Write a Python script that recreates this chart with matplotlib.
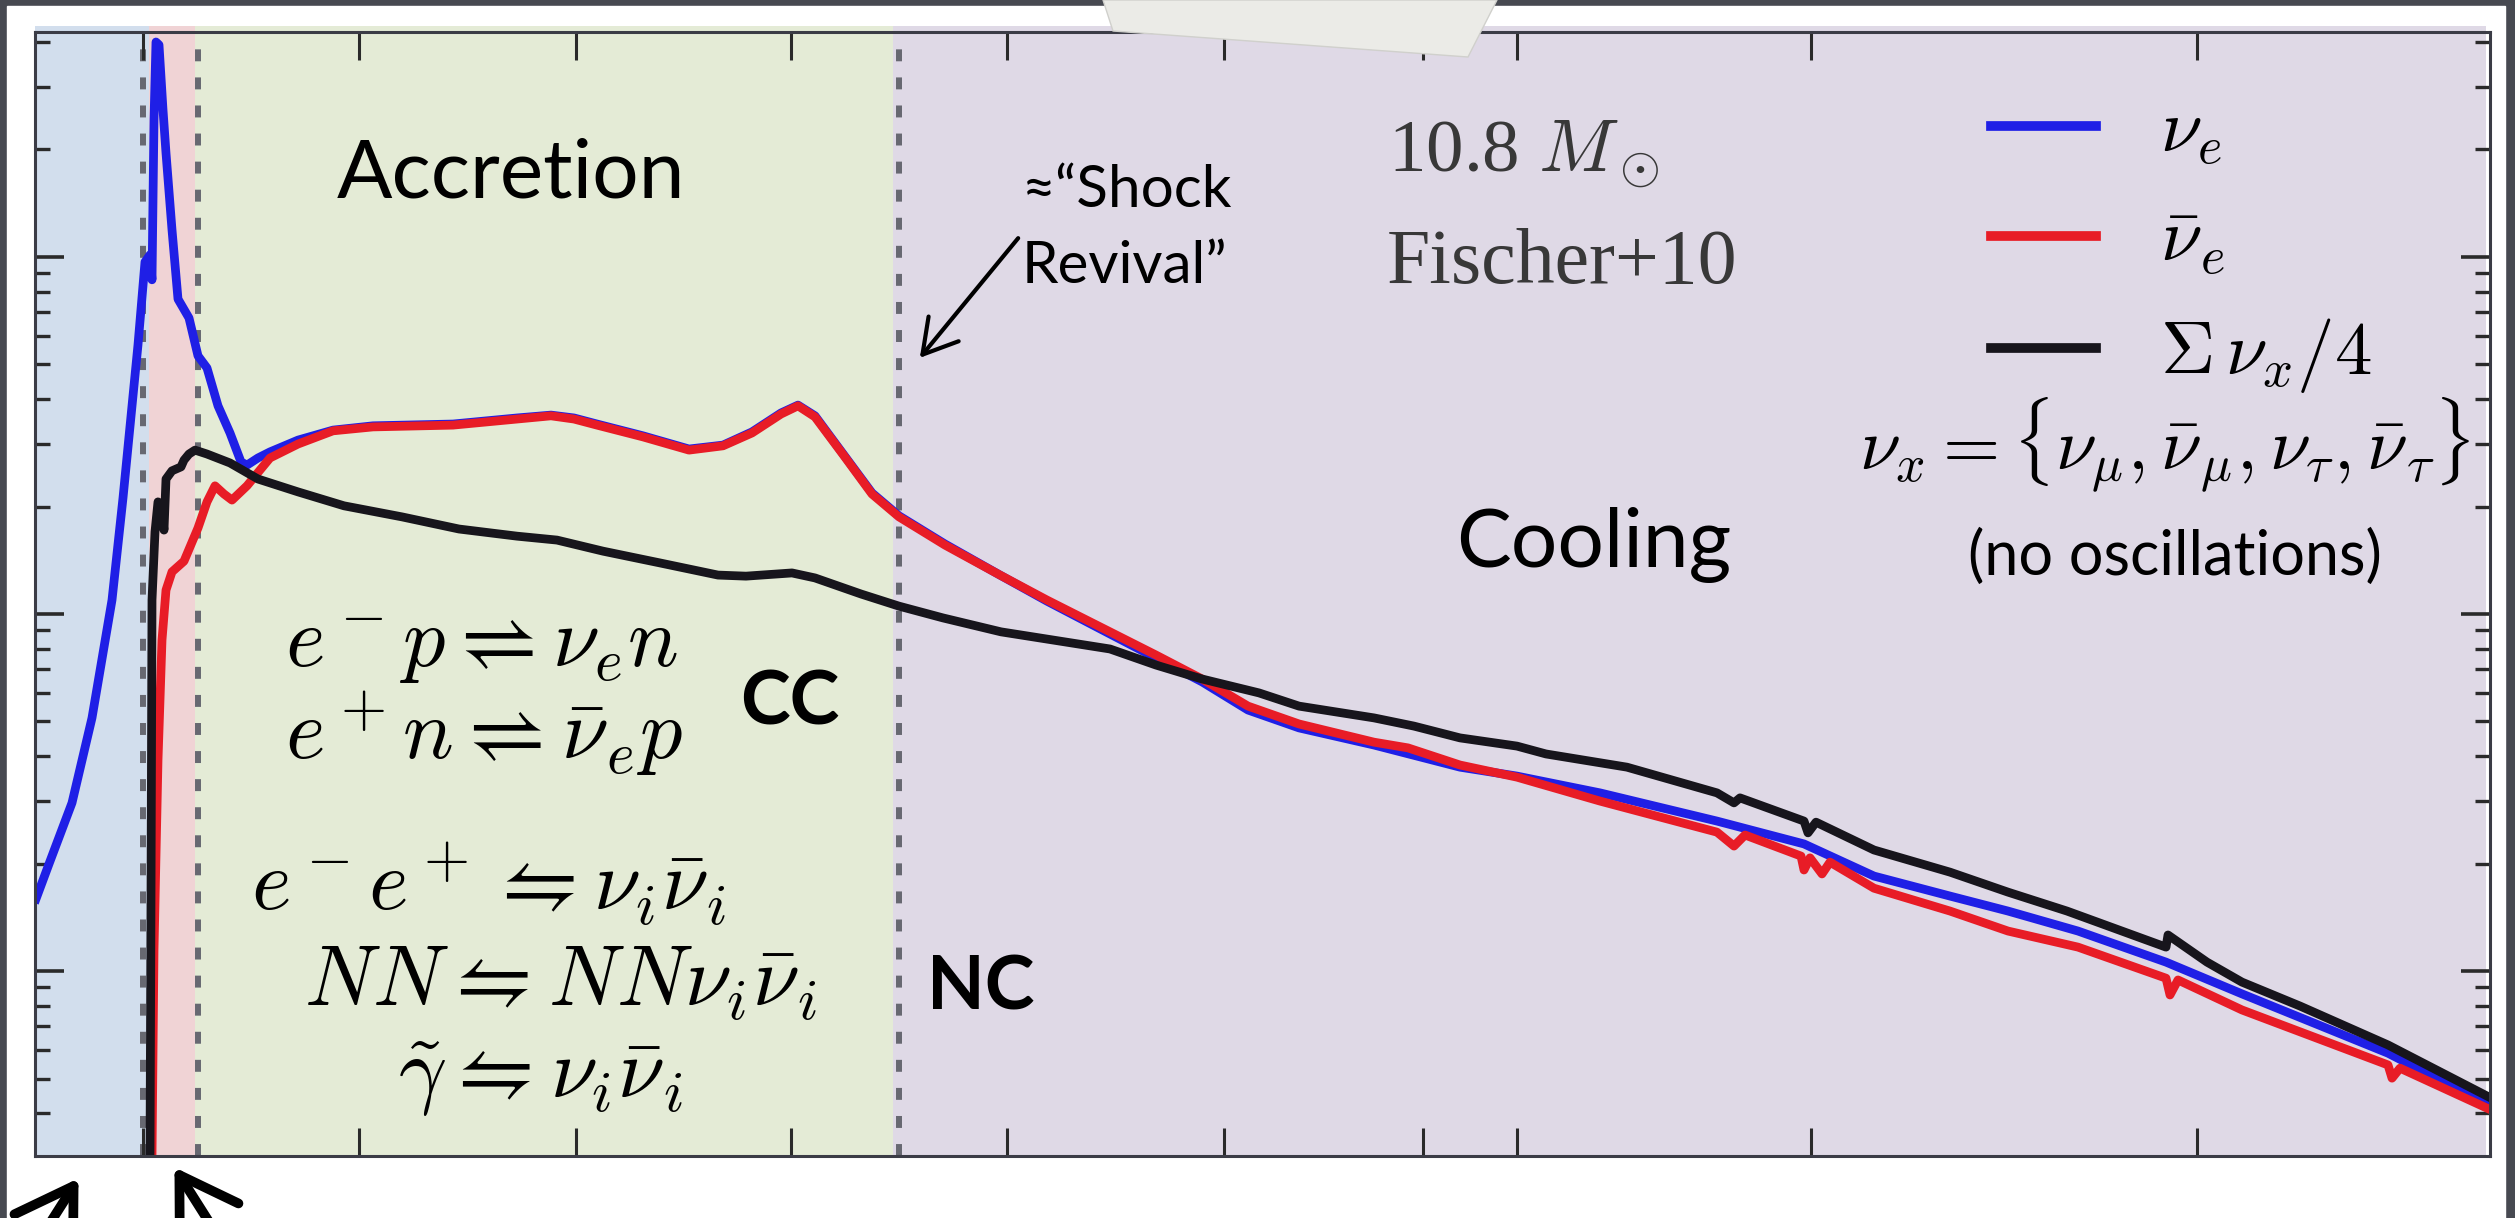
" neutrino luminosity phases of a 10.8 Msun core-collapse (Fischer+10) "
import numpy as np
import matplotlib.pyplot as plt
from matplotlib.patches import Rectangle, Polygon, FancyArrowPatch

plt.rcParams['mathtext.fontset'] = 'cm'

# time axis in arbitrary units, luminosity as log10(L / 1e52 erg/s)
t_nue = [0.01, 0.14, 0.37, 0.57, 0.77, 0.88, 1.03, 1.10, 1.15, 1.17, 1.19,
         1.21, 1.24, 1.28, 1.31, 1.37, 1.43, 1.54, 1.63, 1.72, 1.83, 1.95,
         2.06, 2.12, 2.23, 2.35, 2.63, 2.98, 3.38, 4.18, 4.82, 5.16, 5.39,
         5.62, 6.08, 6.54, 6.88, 7.17, 7.46, 7.63, 7.80, 8.09, 8.37, 8.64,
         9.10, 9.65, 10.12, 10.75, 11.21, 11.67, 12.13, 12.64, 13.39, 14.25,
         14.82, 15.65, 16.82, 17.69, 18.39, 19.15, 19.73, 20.43, 21.31,
         22.07, 23.53, 24.52]
L_nue = [-0.798, -0.700, -0.529, -0.291, 0.039, 0.325, 0.754, 0.986, 1.006,
         0.936, 1.384, 1.602, 1.594, 1.412, 1.291, 1.076, 0.882, 0.829,
         0.723, 0.689, 0.583, 0.507, 0.426, 0.417, 0.437, 0.454, 0.487,
         0.515, 0.527, 0.532, 0.549, 0.557, 0.549, 0.532, 0.499, 0.462,
         0.473, 0.510, 0.563, 0.585, 0.555, 0.445, 0.339, 0.275, 0.196,
         0.109, 0.036, -0.056, -0.123, -0.190, -0.269, -0.319, -0.367,
         -0.429, -0.454, -0.501, -0.580, -0.644, -0.734, -0.790, -0.832,
         -0.888, -0.975, -1.064, -1.230, -1.373]

t_anue = [1.17, 1.19, 1.23, 1.27, 1.31, 1.37, 1.49, 1.63, 1.72, 1.80, 1.89,
          1.97, 2.12, 2.35, 2.63, 2.98, 3.38, 4.18, 4.82, 5.16, 5.39, 5.62,
          6.08, 6.54, 6.88, 7.17, 7.46, 7.63, 7.80, 8.09, 8.37, 8.64, 9.10,
          9.65, 10.12, 10.75, 11.21, 11.67, 12.13, 12.64, 13.39, 13.73,
          14.25, 14.82, 15.65, 16.82, 16.99, 17.10, 17.66, 17.69, 17.75,
          17.87, 17.95, 18.39, 19.15, 19.73, 20.43, 21.31, 21.35, 21.43,
          22.07, 23.53, 23.57, 23.65, 24.52]
L_anue = [-1.521, -0.941, -0.409, -0.073, 0.067, 0.118, 0.148, 0.241, 0.314,
          0.359, 0.336, 0.319, 0.359, 0.437, 0.476, 0.513, 0.524, 0.529,
          0.546, 0.555, 0.546, 0.529, 0.496, 0.459, 0.471, 0.507, 0.560,
          0.583, 0.552, 0.443, 0.336, 0.272, 0.193, 0.109, 0.039, -0.050,
          -0.115, -0.182, -0.258, -0.308, -0.359, -0.375, -0.423, -0.457,
          -0.524, -0.611, -0.650, -0.619, -0.678, -0.717, -0.683, -0.728,
          -0.695, -0.768, -0.832, -0.888, -0.933, -1.020, -1.067, -1.025,
          -1.109, -1.263, -1.300, -1.272, -1.384]

t_nux = [1.15, 1.16, 1.17, 1.20, 1.23, 1.27, 1.29, 1.31, 1.37, 1.46, 1.49,
         1.54, 1.60, 1.72, 1.95, 2.23, 2.63, 3.09, 3.67, 4.24, 4.82, 5.22,
         5.68, 6.25, 6.83, 7.11, 7.57, 7.80, 8.26, 8.64, 9.08, 9.66, 10.75,
         11.21, 11.67, 12.24, 12.64, 13.39, 13.79, 14.25, 14.82, 15.11,
         15.92, 16.82, 16.99, 17.05, 17.69, 17.73, 17.81, 18.39, 19.15,
         19.73, 20.32, 21.31, 21.33, 21.72, 22.07, 22.65, 23.53, 24.52]
L_nux = [-1.521, -0.801, 0.039, 0.230, 0.314, 0.286, 0.235, 0.378, 0.401,
         0.412, 0.431, 0.448, 0.459, 0.448, 0.423, 0.378, 0.342, 0.303,
         0.272, 0.238, 0.218, 0.207, 0.176, 0.143, 0.109, 0.106, 0.115,
         0.101, 0.056, 0.022, -0.011, -0.050, -0.098, -0.143, -0.182,
         -0.221, -0.258, -0.291, -0.314, -0.347, -0.370, -0.392, -0.429,
         -0.501, -0.529, -0.515, -0.580, -0.613, -0.583, -0.661, -0.723,
         -0.779, -0.832, -0.933, -0.899, -0.975, -1.031, -1.098, -1.207,
         -1.350]

# phase boundaries and the dashed markers
phase_edges = [0.0, 1.14, 1.60, 8.58, 24.51]
phase_colors = ['#d2deed', '#f0d3d5', '#e4ebd6', '#dfd9e6']
dashed_t = [1.08, 1.63, 8.64]
xticks = [1.08, 3.24, 5.41, 7.56, 9.72, 11.89, 13.88, 14.82, 17.76, 21.62]

W, H = 2515, 1218
fig = plt.figure(figsize=(W / 100, H / 100), dpi=100)
fig.patch.set_facecolor('#474951')
fig.patches.append(Rectangle((7 / W, 0), 2498 / W, 1212 / H,
                             transform=fig.transFigure, color='white',
                             zorder=-10))

ax = fig.add_axes([35 / W, 62 / H, 2455 / W, 1124 / H])
ax.set_zorder(1)
ax.set_facecolor('none')
ax.set_yscale('log')
ax.set_xlim(0, 24.55)
ax.set_ylim(10 ** (52 - 1.518), 10 ** (52 + 1.630))

for x0, x1, c in zip(phase_edges[:-1], phase_edges[1:], phase_colors):
    ax.axvspan(x0, x1, ymin=0, ymax=1.0055, color=c, lw=0, zorder=0,
               clip_on=False)
for xd in dashed_t:
    ax.axvline(xd, color='#676871', lw=4.3, dashes=(2.0, 2.7), zorder=1)

lw = 6.3
ax.plot(t_nue, 10 ** (52 + np.array(L_nue)), color='#1f1fe6', lw=lw,
        solid_joinstyle='round', zorder=3, label=r'$\nu_e$')
ax.plot(t_anue, 10 ** (52 + np.array(L_anue)), color='#e81c26', lw=lw,
        solid_joinstyle='round', zorder=4, label=r'$\bar{\nu}_e$')
ax.plot(t_nux, 10 ** (52 + np.array(L_nux)), color='#17151c', lw=lw,
        solid_joinstyle='round', zorder=5, label=r'$\Sigma\,\nu_x/4$')

ax.set_xticks(xticks)
ax.tick_params(axis='x', which='both', direction='in', top=True,
               bottom=True, labelbottom=False, length=20, width=2.2,
               color='#2a2a2a')
ax.tick_params(axis='y', which='major', direction='in', left=True,
               right=True, labelleft=False, length=21, width=2.6,
               color='#2a2a2a')
ax.tick_params(axis='y', which='minor', direction='in', left=True,
               right=True, labelleft=False, length=11, width=2.4,
               color='#2a2a2a')
for s in ax.spines.values():
    s.set_color('#3b3c46')
    s.set_linewidth(2.2)
    s.set_zorder(6)

leg = ax.legend(loc='center left', bbox_to_anchor=(0.7967, 0.8105),
                frameon=False, fontsize=54, handlelength=1.4,
                handletextpad=0.85, labelspacing=0.5, borderpad=0,
                borderaxespad=0)
for ln in leg.get_lines():
    ln.set_linewidth(7)

sans = 'Lato'
ax.text(0.1230, 0.8532, 'Accretion', fontsize=59, family=sans,
        va='baseline', transform=ax.transAxes)
ax.text(0.5788, 0.5240, 'Cooling', fontsize=59, family=sans,
        va='baseline', transform=ax.transAxes)
ax.text(0.2872, 0.3843, 'CC', fontsize=54, family=sans, weight='bold',
        va='baseline', transform=ax.transAxes)
ax.text(0.3633, 0.1299, 'NC', fontsize=54, family=sans, weight='bold',
        va='baseline', transform=ax.transAxes)
ax.text(0.4020, 0.8443, '\u2248\u201cShock', fontsize=42, family=sans,
        va='baseline', transform=ax.transAxes)
ax.text(0.4020, 0.7767, 'Revival\u201d', fontsize=42, family=sans,
        va='baseline', transform=ax.transAxes)
ax.annotate('', xy=(0.3597, 0.7082), xytext=(0.4012, 0.8185),
            xycoords='axes fraction',
            arrowprops=dict(arrowstyle='->,head_length=0.6,head_width=0.35',
                            lw=3, color='black', mutation_scale=40))

serif_col = '#383838'
ax.text(0.5511, 0.8754, r'10.8 $M_\odot$', fontsize=54,
        family='Liberation Serif', color=serif_col, va='baseline',
        transform=ax.transAxes)
ax.text(0.5507, 0.7767, 'Fischer+10', fontsize=56,
        family='Liberation Serif', color=serif_col, va='baseline',
        transform=ax.transAxes)
ax.text(0.7430, 0.6112,
        r'$\nu_x=\{\nu_\mu,\bar{\nu}_\mu,\nu_\tau,\bar{\nu}_\tau\}$',
        fontsize=53, va='baseline', transform=ax.transAxes)
ax.text(0.8717, 0.5329, '(no oscillations)', fontsize=44, family=sans,
        ha='center', va='center', transform=ax.transAxes)

# charged- and neutral-current processes
eqs = [(0.1020, 0.4351, r'$e^-p\rightleftharpoons\nu_e n$'),
       (0.1020, 0.3523, r'$e^+n\rightleftharpoons\bar{\nu}_e p$'),
       (0.0880, 0.2180, r'$e^-e^+\leftrightharpoons\nu_i\bar{\nu}_i$'),
       (0.1096, 0.1335, r'$NN\leftrightharpoons NN\nu_i\bar{\nu}_i$'),
       (0.1480, 0.0516, r'$\tilde{\gamma}\leftrightharpoons\nu_i\bar{\nu}_i$')]
for x, y, s in eqs:
    ax.text(x, y, s, fontsize=61, va='baseline', transform=ax.transAxes)

# paper tape on the slide edge
fig.patches.append(Polygon([(1103 / W, 1.0), (1497 / W, 1.0),
                            (1468 / W, (H - 57) / H),
                            (1113 / W, (H - 31) / H)],
                           closed=True, transform=fig.transFigure,
                           facecolor='#ebebe7', edgecolor='#d0d0cc',
                           lw=1, zorder=10))

# pointers below the time axis
for tail, tip in [((30 / W, -0.03), (80 / W, 42 / H)),
                  ((222 / W, -0.02), (173 / W, 53 / H))]:
    fig.patches.append(FancyArrowPatch(
        tail, tip, transform=fig.transFigure,
        arrowstyle='->,head_length=1.6,head_width=1.0', mutation_scale=25,
        lw=7, color='black', zorder=10))

fig.savefig('out.png', dpi=100)
